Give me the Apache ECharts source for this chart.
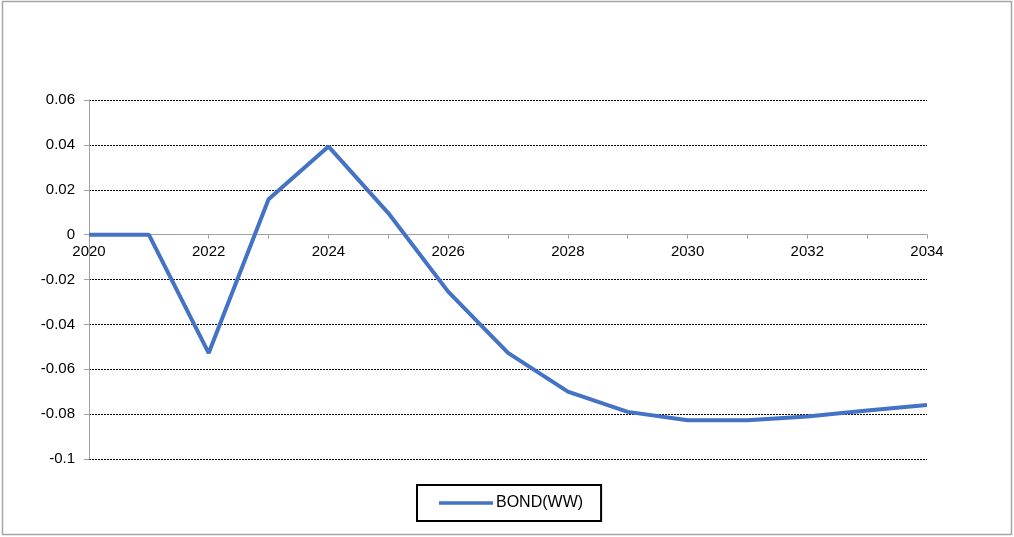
<!DOCTYPE html>
<html>
<head>
<meta charset="utf-8">
<script src="https://cdn.jsdelivr.net/npm/echarts@6/dist/echarts.min.js"></script>
<style>
  html, body { margin: 0; padding: 0; background: #fff; }
  #chart { width: 1014px; height: 537px; }
</style>
</head>
<body>
<div id="chart"></div>
<script>
// Years on the horizontal axis
const years = ['2020','2021','2022','2023','2024','2025','2026','2027','2028','2029','2030','2031','2032','2033','2034'];
// BOND(WW) series
const bondWW = [0, 0, -0.0528, 0.0158, 0.0393, 0.0096, -0.0254, -0.0527, -0.0700, -0.0790, -0.0827, -0.0827, -0.0811, -0.0784, -0.0759];
const seriesName = 'BOND(WW)';
// Value axis range
const yMin = -0.1, yMax = 0.06, yStep = 0.02;

const chart = echarts.init(document.getElementById('chart'), null, { renderer: 'canvas' });
const font = 'Liberation Sans, Arial, sans-serif';

// Plot box
const gridTop = 100, gridBottom = 78, chartH = 537;
const plotH = chartH - gridTop - gridBottom;
// Lift the category axis up to the zero line of the value axis
const zeroOffset = -plotH * (0 - yMin) / (yMax - yMin);

chart.setOption({
  backgroundColor: '#fff',
  animation: false,
  graphic: [{
    type: 'rect',
    shape: { x: 2.5, y: 1.5, width: 1009, height: 533 },
    style: { fill: 'none', stroke: '#a6a6a6', lineWidth: 1.5 },
    silent: true
  }],
  grid: { left: 89, right: 87, top: gridTop, bottom: gridBottom },
  legend: {
    data: [seriesName],
    left: 417,
    top: 485,
    icon: 'rect',
    itemWidth: 54,
    itemHeight: 3.5,
    padding: [10, 18, 10, 22],
    borderColor: '#000',
    borderWidth: 2,
    borderRadius: 0,
    textStyle: { fontFamily: font, fontSize: 16, color: '#000', padding: [0, 0, 0, -2] }
  },
  xAxis: {
    type: 'category',
    data: years,
    boundaryGap: false,
    offset: zeroOffset,
    axisLine: { onZero: false, lineStyle: { color: '#a0a0a0', width: 1 } },
    axisTick: { show: true, inside: false, length: 4, interval: 0, lineStyle: { color: '#a0a0a0' } },
    axisLabel: { interval: 1, color: '#000', fontFamily: font, fontSize: 15, margin: 10 },
    splitLine: { show: false }
  },
  yAxis: {
    type: 'value',
    min: yMin,
    max: yMax,
    interval: yStep,
    axisLine: { show: true, lineStyle: { color: '#a0a0a0', width: 1 } },
    axisTick: { show: true, length: 5, lineStyle: { color: '#a0a0a0' } },
    axisLabel: {
      color: '#000', fontFamily: font, fontSize: 15, margin: 14,
      formatter: v => String(parseFloat(v.toFixed(2)))
    },
    splitLine: { show: true, lineStyle: { color: '#000', type: [2, 1], width: 1 } }
  },
  series: [{
    name: seriesName,
    type: 'line',
    data: bondWW,
    symbol: 'none',
    lineStyle: { color: '#4472C4', width: 4 },
    itemStyle: { color: '#4472C4' }
  }]
});
</script>
</body>
</html>
